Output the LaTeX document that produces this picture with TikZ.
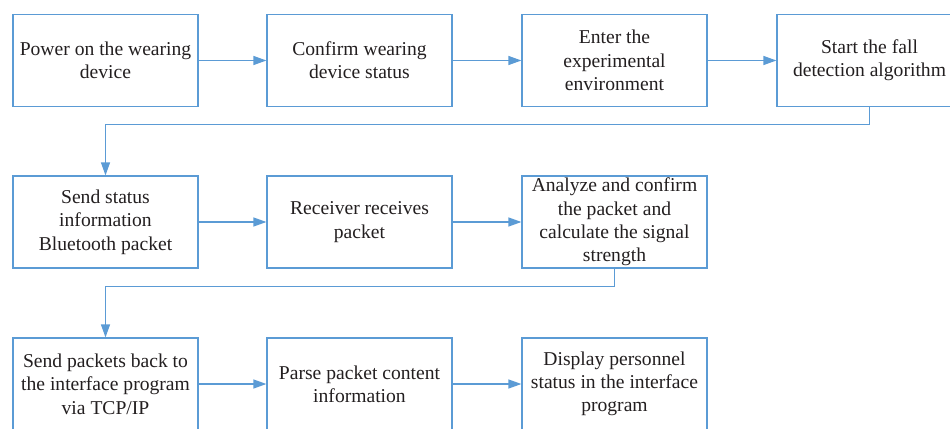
\documentclass[tikz,border=0pt]{standalone}
\usepackage{fontspec}
\setmainfont{Liberation Serif}
\newfontfamily\boxfont{Liberation Serif}
\usetikzlibrary{arrows.meta}
\definecolor{flowblue}{RGB}{91,155,213}
\definecolor{flowtext}{RGB}{35,31,32}
\tikzset{
  stepbox/.style={draw=flowblue, line width=1.2bp, fill=white,
    minimum width=185bp, minimum height=92bp, inner sep=0pt,
    align=center, text=flowtext,
    font=\boxfont\fontsize{19.6bp}{23.3bp}\selectfont},
  flow/.style={draw=flowblue, line width=1.2bp,
    -{Triangle[length=13bp,width=9bp]}}
}
\begin{document}
\begin{tikzpicture}[x=1bp,y=1bp]
  \useasboundingbox (0,0) rectangle (950,428);
  \clip (0,0) rectangle (950,428);
  % first row
  \node[stepbox] (a1) at (105.5,367.5) {Power on the wearing\\device};
  \node[stepbox] (a2) at (359.5,367.5) {Confirm wearing\\device status};
  \node[stepbox] (a3) at (614.5,367.5) {Enter the\\experimental\\environment};
  \node[stepbox] (a4) at (869.5,367.5) {Start the fall\\detection algorithm};
  % second row
  \node[stepbox] (b1) at (105.5,206) {Send status\\information\\Bluetooth packet};
  \node[stepbox] (b2) at (359.5,206) {Receiver receives\\packet};
  \node[stepbox] (b3) at (614.5,206) {Analyze and confirm\\the packet and\\calculate the signal\\strength};
  % third row
  \node[stepbox] (c1) at (105.5,44) {Send packets back to\\the interface program\\via TCP/IP};
  \node[stepbox] (c2) at (359.5,44) {Parse packet content\\information};
  \node[stepbox] (c3) at (614.5,44) {Display personnel\\status in the interface\\program};
  % connectors
  \draw[flow] (a1) -- (a2);
  \draw[flow] (a2) -- (a3);
  \draw[flow] (a3) -- (a4);
  \draw[flow] (a4.south) -- ++(0,-17) -| (b1.north);
  \draw[flow] (b1) -- (b2);
  \draw[flow] (b2) -- (b3);
  \draw[flow] (b3.south) -- ++(0,-18) -| (c1.north);
  \draw[flow] (c1) -- (c2);
  \draw[flow] (c2) -- (c3);
\end{tikzpicture}
\end{document}
